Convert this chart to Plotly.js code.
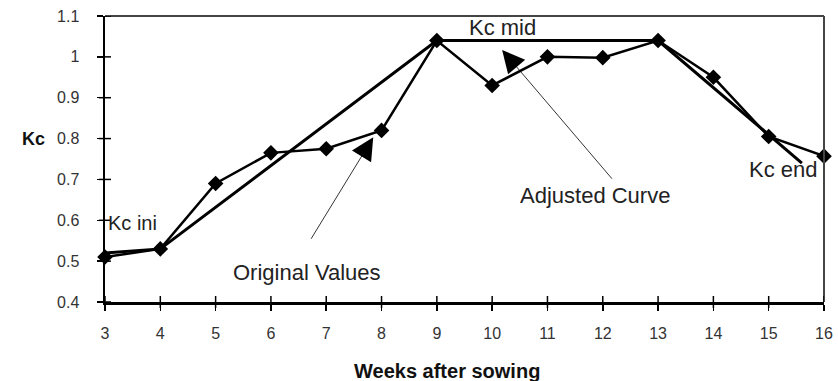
<!DOCTYPE html>
<html>
<head>
<meta charset="utf-8">
<script src="https://cdn.plot.ly/plotly-3.0.1.min.js"></script>
<style>
  html, body { margin: 0; padding: 0; background: #fff; }
  #chart { width: 838px; height: 381px; }
</style>
</head>
<body>
<div id="chart"></div>
<script>
// Data
const weeks = [3, 4, 5, 6, 7, 8, 9, 10, 11, 12, 13, 14, 15, 16];
const originalKc = [0.51, 0.53, 0.69, 0.765, 0.775, 0.82, 1.04, 0.93, 1.0, 0.998, 1.04, 0.95, 0.805, 0.757];
const adjustedWeeks = [3, 4, 9, 13, 15.6];
const adjustedKc = [0.52, 0.53, 1.04, 1.04, 0.74];
const xTicks = [3, 4, 5, 6, 7, 8, 9, 10, 11, 12, 13, 14, 15, 16];
const yTicks = [0.4, 0.5, 0.6, 0.7, 0.8, 0.9, 1, 1.1];
const yTickText = ['0.4', '0.5', '0.6', '0.7', '0.8', '0.9', '1', '1.1'];

const FONT = 'Liberation Sans, Arial, sans-serif';

const traces = [
  {
    x: weeks, y: originalKc, type: 'scatter', mode: 'lines+markers',
    name: 'Original Values', cliponaxis: false,
    line: { color: '#000', width: 2.5 },
    marker: { symbol: 'diamond', size: 12, color: '#000' }
  },
  {
    x: adjustedWeeks, y: adjustedKc, type: 'scatter', mode: 'lines',
    name: 'Adjusted Curve', cliponaxis: false,
    line: { color: '#000', width: 3 }
  }
];

const tickFont = { family: FONT, size: 16, color: '#333' };
const labelFont = { family: FONT, size: 22, color: '#222' };

// Cross-style tick marks (half inside the plot), one per tick value
const tickStyle = { color: '#000', width: 1.5 };
const crossTicks = [].concat(
  xTicks.map(t => ({ type: 'line', xref: 'x', yref: 'paper', ysizemode: 'pixel', yanchor: 0,
                     x0: t, x1: t, y0: -6, y1: 6, line: tickStyle })),
  yTicks.map(t => ({ type: 'line', yref: 'y', xref: 'paper', xsizemode: 'pixel', xanchor: 0,
                     y0: t, y1: t, x0: -6, x1: 6, line: tickStyle }))
);

const layout = {
  width: 838, height: 381,
  margin: { l: 105, r: 14, t: 16, b: 79, pad: 0 },
  paper_bgcolor: '#fff', plot_bgcolor: '#fff',
  showlegend: false,
  xaxis: {
    range: [3, 16], tickvals: xTicks, ticktext: xTicks.map(String),
    showgrid: false, zeroline: false,
    showline: true, linecolor: '#000', linewidth: 2.5,
    ticks: 'outside', ticklen: 6, tickwidth: 1.5, tickcolor: '#000',
    tickfont: tickFont, ticklabelstandoff: 9
  },
  yaxis: {
    range: [0.4, 1.1], tickvals: yTicks, ticktext: yTickText,
    showgrid: false, zeroline: false,
    showline: true, linecolor: '#000', linewidth: 2.5,
    ticks: 'outside', ticklen: 6, tickwidth: 1.5, tickcolor: '#000',
    tickfont: tickFont, ticklabelstandoff: 14
  },
  shapes: [
    { type: 'line', xref: 'paper', yref: 'paper', x0: 0, x1: 1, y0: 1, y1: 1, line: { color: '#444', width: 2 } },
    { type: 'line', xref: 'paper', yref: 'paper', x0: 1, x1: 1, y0: 0, y1: 1, line: { color: '#444', width: 2 } }
  ].concat(crossTicks),
  annotations: [
    { text: 'Kc', xref: 'paper', yref: 'y', x: -0.1, y: 0.8, showarrow: false,
      font: { family: FONT, size: 18, color: '#111', weight: 'bold' }, xanchor: 'center', yanchor: 'middle' },
    { text: 'Weeks after sowing', xref: 'paper', yref: 'paper', x: 0.475, y: -0.241, showarrow: false,
      font: { family: FONT, size: 20, color: '#111', weight: 'bold' }, xanchor: 'center', yanchor: 'middle' },
    { text: 'Kc ini', xref: 'x', yref: 'y', x: 3.5, y: 0.593, showarrow: false,
      font: { family: FONT, size: 20, color: '#222' }, xanchor: 'center', yanchor: 'middle' },
    { text: 'Kc mid', xref: 'x', yref: 'y', x: 10.19, y: 1.072, showarrow: false,
      font: labelFont, xanchor: 'center', yanchor: 'middle' },
    { text: 'Kc end', xref: 'x', yref: 'y', x: 15.26, y: 0.725, showarrow: false,
      font: labelFont, xanchor: 'center', yanchor: 'middle' },
    { text: 'Adjusted Curve', xref: 'x', yref: 'y', x: 11.86, y: 0.66, showarrow: false,
      font: labelFont, xanchor: 'center', yanchor: 'middle' },
    { text: 'Original Values', xref: 'x', yref: 'y', x: 6.66, y: 0.472, showarrow: false,
      font: labelFont, xanchor: 'center', yanchor: 'middle' },
    { text: '', xref: 'x', yref: 'y', x: 7.85, y: 0.803, axref: 'x', ayref: 'y', ax: 6.71, ay: 0.551,
      showarrow: true, arrowhead: 2, arrowsize: 5.6, arrowwidth: 0.8, arrowcolor: '#000' },
    { text: '', xref: 'x', yref: 'y', x: 10.18, y: 1.017, axref: 'x', ayref: 'y', ax: 12.19, ay: 0.698,
      showarrow: true, arrowhead: 2, arrowsize: 5.6, arrowwidth: 0.8, arrowcolor: '#000' }
  ]
};

Plotly.newPlot('chart', traces, layout, { displayModeBar: false, staticPlot: true });
</script>
</body>
</html>
